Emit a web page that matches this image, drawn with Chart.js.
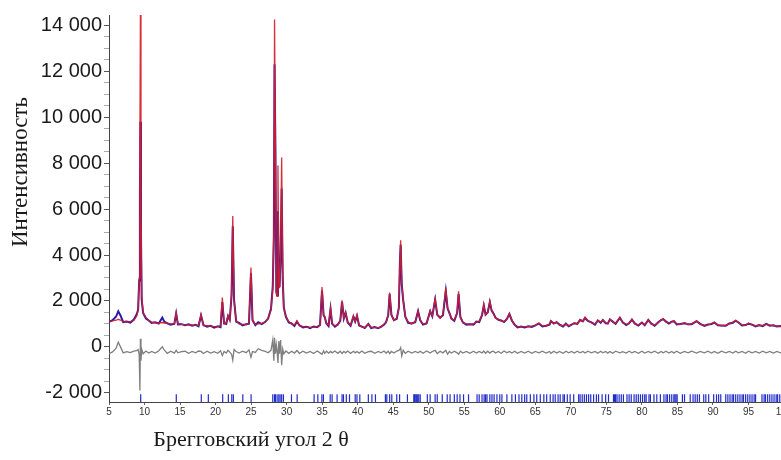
<!DOCTYPE html>
<html>
<head>
<meta charset="utf-8">
<script src="https://cdn.jsdelivr.net/npm/chart.js@4/dist/chart.umd.min.js"></script>
<style>
  html, body { margin: 0; padding: 0; background: #ffffff; overflow: hidden; }
  #wrap { position: relative; width: 800px; height: 460px; }
</style>
</head>
<body>
<div id="wrap"><canvas id="c"></canvas></div>
<script>
// ---- data ----
const twoTheta = [
  5.0, 5.5, 6.0, 6.3, 6.6, 7.0, 7.5, 8.0, 8.5, 8.9,
  9.1, 9.25, 9.35, 9.42, 9.5, 9.6, 9.8, 10.2, 10.6, 11.0,
  11.5, 12.0, 12.5, 12.8, 13.2, 13.7, 14.2, 14.45, 14.7, 15.2,
  15.7, 16.2, 16.7, 17.2, 17.6, 17.95, 18.3, 18.8, 19.3, 19.8,
  20.3, 20.7, 20.95, 21.2, 21.5, 21.75, 22.0, 22.25, 22.42, 22.6,
  22.9, 23.3, 23.8, 24.3, 24.7, 24.98, 25.2, 25.6, 26.0, 26.5,
  27.0, 27.4, 27.8, 28.05, 28.2, 28.3, 28.42, 28.55, 28.65, 28.78,
  28.9, 29.0, 29.15, 29.3, 29.45, 29.6, 29.9, 30.3, 30.7, 31.1,
  31.45, 31.8, 32.3, 32.8, 33.3, 33.8, 34.3, 34.7, 34.98, 35.2,
  35.35, 35.6, 35.9, 36.18, 36.4, 36.8, 37.2, 37.55, 37.8, 38.05,
  38.3, 38.6, 39.0, 39.4, 39.65, 39.9, 40.2, 40.6, 41.0, 41.5,
  41.9, 42.4, 42.9, 43.3, 43.7, 44.0, 44.3, 44.5, 44.75, 45.1,
  45.5, 45.8, 45.95, 46.05, 46.2, 46.4, 46.7, 47.1, 47.6, 48.1,
  48.5, 48.8, 49.2, 49.7, 50.2, 50.5, 50.9, 51.2, 51.6, 52.0,
  52.4, 52.65, 52.9, 53.2, 53.6, 54.0, 54.2, 54.45, 54.8, 55.3,
  55.8, 56.3, 56.7, 57.1, 57.5, 57.75, 58.0, 58.3, 58.6, 58.85,
  59.1, 59.4, 59.8, 60.2, 60.6, 61.0, 61.35, 61.7, 62.1, 62.5,
  63.0, 63.5, 64.0, 64.5, 65.0, 65.5, 66.0, 66.5, 67.0, 67.2,
  67.6, 68.0, 68.4, 68.9, 69.3, 69.7, 70.1, 70.5, 70.9, 71.3,
  71.7, 72.0, 72.4, 72.9, 73.4, 73.8, 74.2, 74.5, 74.9, 75.2,
  75.5, 75.9, 76.3, 76.9, 77.3, 77.8, 78.2, 78.6, 79.0, 79.5,
  80.0, 80.4, 80.9, 81.3, 81.8, 82.3, 82.7, 83.0, 83.4, 83.8,
  84.2, 84.5, 84.9, 85.4, 86.0, 86.5, 87.0, 87.7, 88.2, 88.8,
  89.3, 89.8, 90.2, 90.7, 91.2, 91.8, 92.3, 92.8, 93.2, 93.6,
  94.1, 94.6, 95.0, 95.5, 96.0, 96.5, 97.0, 97.5, 98.0, 98.5,
  99.0, 99.5, 100.0
];

const intensityCalc = [
  1120, 1130, 1160, 1200, 1170, 1100, 1090, 1100, 1160, 1350,
  1600, 3000, 9000, 14450, 6000, 2200, 1500, 1280, 1150, 1080,
  1050, 1040, 1060, 1040, 1020, 1000, 1000, 1480, 1000, 980,
  970, 960, 950, 940, 940, 1400, 930, 920, 900, 880,
  880, 920, 2150, 1000, 1050, 1380, 1150, 2300, 5700, 2000,
  1150, 1000, 980, 960, 1050, 3450, 1150, 980, 1000, 1020,
  1080, 1250, 1600, 2500, 5000, 14250, 8700, 2400, 2200, 7900,
  3000, 2550, 4000, 8250, 3000, 1700, 1300, 1100, 1000, 950,
  1130, 920, 880, 860, 850, 860, 880, 950, 2610, 1400,
  1330, 1000, 950, 1700, 1000, 920, 950, 1150, 2030, 1250,
  1500, 1050, 950, 1350, 1100, 1380, 950, 860, 850, 990,
  850, 840, 840, 860, 1000, 1050, 1400, 2370, 1400, 1150,
  1250, 1700, 3800, 4640, 2700, 2100, 1300, 1090, 1000, 1100,
  1570, 1150, 1000, 1000, 1570, 1350, 2100, 1400, 1250, 1400,
  2580, 1700, 1500, 1200, 1160, 1500, 2420, 1300, 1050, 1000,
  980, 1000, 1090, 1100, 1400, 1850, 1400, 1500, 1990, 1600,
  1470, 1250, 1200, 1130, 1100, 1200, 1450, 1150, 950, 880,
  870, 880, 880, 900, 930, 1030, 920, 900, 1000, 1140,
  1000, 1100, 950, 920, 1000, 920, 960, 1050, 980, 1190,
  1100, 1280, 1150, 1050, 1000, 1150, 1080, 1170, 1050, 1000,
  1200, 1080, 1030, 1280, 1050, 980, 1020, 1200, 1000, 950,
  1050, 960, 1180, 1000, 950, 1050, 1180, 1220, 1080, 1050,
  1080, 1130, 1000, 980, 1050, 970, 1000, 1130, 980, 940,
  960, 1020, 1050, 960, 920, 950, 1000, 1080, 1150, 1050,
  960, 940, 1030, 960, 920, 940, 930, 1000, 950, 930,
  910, 900, 900
];

const intensityObs = [
  1090, 1160, 1320, 1550, 1380, 1080, 1100, 1060, 1190, 1420,
  1620, 2900, 6600, 9800, 5000, 2050, 1480, 1230, 1150, 1040,
  1070, 1020, 1280, 1090, 1030, 970, 1010, 1450, 980, 990,
  940, 980, 920, 960, 900, 1370, 950, 880, 920, 840,
  900, 860, 1950, 1030, 1000, 1330, 1190, 2250, 5250, 2050,
  1100, 1040, 940, 990, 1010, 3200, 1160, 950, 1070, 990,
  1090, 1230, 1660, 2650, 4800, 12300, 8700, 2380, 2250, 5900,
  3050, 2600, 3800, 6900, 2950, 1720, 1310, 1060, 1020, 910,
  1100, 940, 850, 880, 820, 890, 860, 950, 2450, 1380,
  1310, 1020, 910, 1650, 1010, 880, 970, 1130, 1960, 1240,
  1480, 1060, 920, 1320, 1110, 1350, 930, 880, 820, 1000,
  820, 860, 810, 880, 960, 1080, 1380, 2300, 1390, 1160,
  1220, 1720, 3770, 4450, 2720, 2050, 1320, 1050, 1020, 1070,
  1550, 1160, 970, 1030, 1550, 1330, 2050, 1400, 1270, 1380,
  2420, 1680, 1480, 1230, 1130, 1480, 2300, 1300, 1070, 970,
  990, 970, 1100, 1080, 1380, 1800, 1400, 1500, 1950, 1580,
  1460, 1270, 1180, 1150, 1080, 1220, 1430, 1150, 960, 850,
  890, 850, 900, 870, 940, 1020, 890, 920, 970, 1120,
  1020, 1070, 970, 890, 1010, 900, 970, 1030, 1000, 1170,
  1120, 1260, 1130, 1070, 970, 1150, 1050, 1170, 1030, 1020,
  1190, 1100, 1000, 1270, 1070, 950, 1030, 1190, 1020, 930,
  1060, 940, 1170, 1020, 920, 1070, 1170, 1210, 1100, 1020,
  1100, 1120, 980, 1000, 1030, 980, 980, 1120, 1000, 910,
  970, 990, 1060, 940, 930, 920, 1020, 1050, 1140, 1060,
  930, 950, 1010, 970, 890, 950, 900, 1000, 920, 940,
  890, 910, 880
];

const intensityDiff = [
  -300, -220, -60, 200, 10, -260, -210, -250, -190, -160,
  -120, -350, -1900, 350, -600, -100, -300, -180, -270, -200,
  -270, -170, 0, -140, -280, -190, -270, -150, -260, -210,
  -190, -280, -200, -260, -180, -200, -290, -190, -270, -210,
  -280, -170, -380, -200, -270, -150, -230, -320, -580, -120,
  -200, -270, -190, -250, -130, -450, -200, -240, -80, -150,
  -200, -260, -150, 300, -600, 400, -300, 100, -150, -700,
  250, -300, 300, -800, -100, -300, -180, -280, -190, -270,
  -160, -280, -190, -270, -200, -290, -180, -260, -320, -170,
  -280, -190, -270, -200, -260, -180, -280, -190, -290, -200,
  -260, -180, -280, -190, -260, -200, -270, -180, -280, -210,
  -190, -280, -200, -260, -180, -270, -190, -290, -200, -270,
  -180, -150, -100, -30, -400, -150, -280, -190, -270, -200,
  -260, -190, -280, -180, -270, -200, -150, -290, -190, -260,
  -150, -320, -200, -270, -190, -260, -320, -190, -270, -200,
  -280, -190, -270, -200, -260, -180, -280, -190, -270, -210,
  -190, -270, -200, -280, -180, -260, -200, -270, -190, -280,
  -200, -270, -190, -280, -200, -260, -190, -270, -200, -280,
  -190, -270, -200, -280, -190, -260, -200, -270, -190, -260,
  -200, -270, -190, -260, -200, -280, -190, -260, -200, -270,
  -200, -280, -190, -260, -210, -270, -190, -260, -200, -280,
  -190, -270, -200, -260, -190, -280, -200, -260, -190, -270,
  -200, -270, -190, -280, -200, -260, -190, -270, -200, -260,
  -190, -270, -200, -280, -190, -260, -200, -270, -190, -260,
  -200, -280, -190, -260, -200, -270, -190, -260, -200, -270,
  -200, -260, -230
];

const braggPositions = [
  9.46, 14.47, 17.99, 18.98, 21.0, 21.8, 22.28, 22.5, 23.83, 25.0,
  28.05, 28.3, 28.42, 28.66, 28.9, 29.08, 29.3, 29.55, 30.68, 31.48,
  33.87, 34.39, 34.96, 35.18, 36.13, 36.4, 37.1, 37.8, 38.0, 38.4,
  38.85, 39.65, 39.9, 40.3, 41.5, 42.0, 42.5, 43.9, 44.1, 44.5,
  44.8, 45.5, 45.9, 47.0, 47.9, 48.0, 48.1, 48.3, 48.45, 48.6,
  48.8, 49.8, 50.2, 50.9, 51.2, 51.9, 52.6, 53.0, 53.6, 54.0,
  54.4, 54.9, 55.6, 56.8, 57.1, 57.5, 57.8, 58.0, 58.2, 58.6,
  58.9, 59.2, 59.6, 60.0, 60.3, 61.0, 61.7, 62.2, 62.7, 63.1,
  63.5, 63.8, 64.3, 64.8, 65.2, 65.7, 66.2, 66.6, 67.1, 67.5,
  67.8, 68.2, 68.5, 68.9, 69.1, 69.5, 69.9, 70.4, 71.1, 71.3,
  71.6, 71.9, 72.2, 72.5, 72.8, 73.2, 73.6, 73.9, 74.4, 74.9,
  75.3, 76.0, 76.15, 76.3, 76.5, 76.8, 77.1, 77.4, 77.9, 78.2,
  78.5, 78.9, 79.2, 79.5, 79.8, 80.1, 80.4, 80.6, 81.0, 81.2,
  81.7, 82.1, 82.6, 83.1, 83.4, 83.6, 83.9, 84.2, 84.5, 84.65,
  84.8, 84.96, 85.7, 86.0, 86.8, 87.2, 87.5, 87.8, 88.1, 88.7,
  89.0, 89.4, 90.1, 90.5, 90.8, 91.1, 91.8, 92.1, 92.4, 92.7,
  92.9, 93.2, 93.5, 93.8, 94.1, 94.3, 94.6, 94.9, 95.2, 95.5,
  95.8, 96.0, 96.9, 97.2, 97.4, 97.7, 98.0, 98.3, 98.6, 98.9,
  99.1, 99.4
];
const braggLevel = -2230;

const xTickValues = [5, 10, 15, 20, 25, 30, 35, 40, 45, 50, 55, 60, 65, 70, 75, 80, 85, 90, 95, 100];
const yMajorTicks = [-2000, 0, 2000, 4000, 6000, 8000, 10000, 12000, 14000];

const yTitle = 'Интенсивность';
const xTitle = 'Брегговский угол 2 θ';

// ---- build chart ----
function pts(ys) { return twoTheta.map((x, i) => ({ x: x, y: ys[i] })); }
function fmt(v) {
  const s = String(Math.abs(v));
  const t = s.length > 3 ? s.slice(0, s.length - 3) + ' ' + s.slice(s.length - 3) : s;
  return (v < 0 ? '-' : '') + t;
}
const yAllTicks = [];
for (let i = 0; i < yMajorTicks.length; i++) {
  yAllTicks.push(yMajorTicks[i]);
  if (i < yMajorTicks.length - 1) {
    const a = yMajorTicks[i], b = yMajorTicks[i + 1];
    yAllTicks.push(a + (b - a) / 4, a + (b - a) / 2, a + 3 * (b - a) / 4);
  }
}

const axisTitles = {
  id: 'axisTitles',
  afterDraw(chart) {
    const ctx = chart.ctx;
    ctx.save();
    ctx.fillStyle = '#1a1a1a';
    ctx.textAlign = 'center';
    ctx.textBaseline = 'middle';
    ctx.font = '23px "Liberation Serif", "Times New Roman", serif';
    ctx.translate(21, 172);
    ctx.rotate(-Math.PI / 2);
    ctx.fillText(yTitle, 0, 0);
    ctx.restore();
    ctx.save();
    ctx.fillStyle = '#1a1a1a';
    ctx.textAlign = 'center';
    ctx.textBaseline = 'middle';
    ctx.font = '22px "Liberation Serif", "Times New Roman", serif';
    ctx.fillText(xTitle, 251, 440);
    ctx.restore();
  }
};

new Chart(document.getElementById('c'), {
  type: 'line',
  data: {
    datasets: [
      {
        label: 'Расчёт',
        data: pts(intensityCalc),
        borderColor: 'rgba(212,28,42,0.92)',
        borderWidth: 1.3,
        pointRadius: 0,
        order: 0
      },
      {
        label: 'Эксперимент',
        data: pts(intensityObs),
        borderColor: '#2a1aa6',
        borderWidth: 2,
        pointRadius: 0,
        order: 1
      },
      {
        label: 'Разность',
        data: pts(intensityDiff),
        borderColor: '#7f7f7f',
        borderWidth: 1.3,
        pointRadius: 0,
        order: 2
      },
      {
        label: 'Брэгговские позиции',
        data: braggPositions.map(x => ({ x: x, y: braggLevel })),
        showLine: false,
        pointStyle: 'line',
        rotation: 90,
        pointRadius: 3.8,
        pointBorderWidth: 1.2,
        pointBorderColor: '#1f2ccc',
        borderColor: '#1f2ccc',
        order: 3
      }
    ]
  },
  options: {
    responsive: true,
    maintainAspectRatio: false,
    animation: false,
    devicePixelRatio: 1,
    layout: { padding: { left: 0, right: 16, top: 15, bottom: 0 } },
    elements: { line: { tension: 0 } },
    plugins: { legend: { display: false }, tooltip: { enabled: false }, title: { display: false } },
    scales: {
      x: {
        type: 'linear',
        min: 5,
        max: 100,
        afterBuildTicks(scale) { scale.ticks = xTickValues.map(v => ({ value: v })); },
        afterFit(scale) { scale.height = 58; },
        grid: { drawOnChartArea: false, drawTicks: true, tickLength: 3, color: '#666' },
        border: { display: true, color: '#444', width: 1 },
        ticks: {
          autoSkip: false,
          maxRotation: 0,
          padding: 1,
          color: '#333',
          font: { family: '"Liberation Sans", Arial, sans-serif', size: 10 }
        }
      },
      y: {
        type: 'linear',
        min: -2400,
        max: 14450,
        afterBuildTicks(scale) { scale.ticks = yAllTicks.map(v => ({ value: v })); },
        afterFit(scale) { scale.width = 109; },
        grid: {
          drawOnChartArea: false,
          drawTicks: true,
          tickLength: 5,
          color: (c) => (c.tick && c.tick.value % 2000 === 0) ? '#555' : '#aaa'
        },
        border: { display: true, color: '#444', width: 1 },
        ticks: {
          autoSkip: false,
          padding: 2,
          color: '#1a1a1a',
          font: { family: '"Liberation Sans", Arial, sans-serif', size: 20 },
          callback: (v) => (v % 2000 === 0 ? fmt(v) : '')
        }
      }
    }
  },
  plugins: [axisTitles]
});
</script>
</body>
</html>
